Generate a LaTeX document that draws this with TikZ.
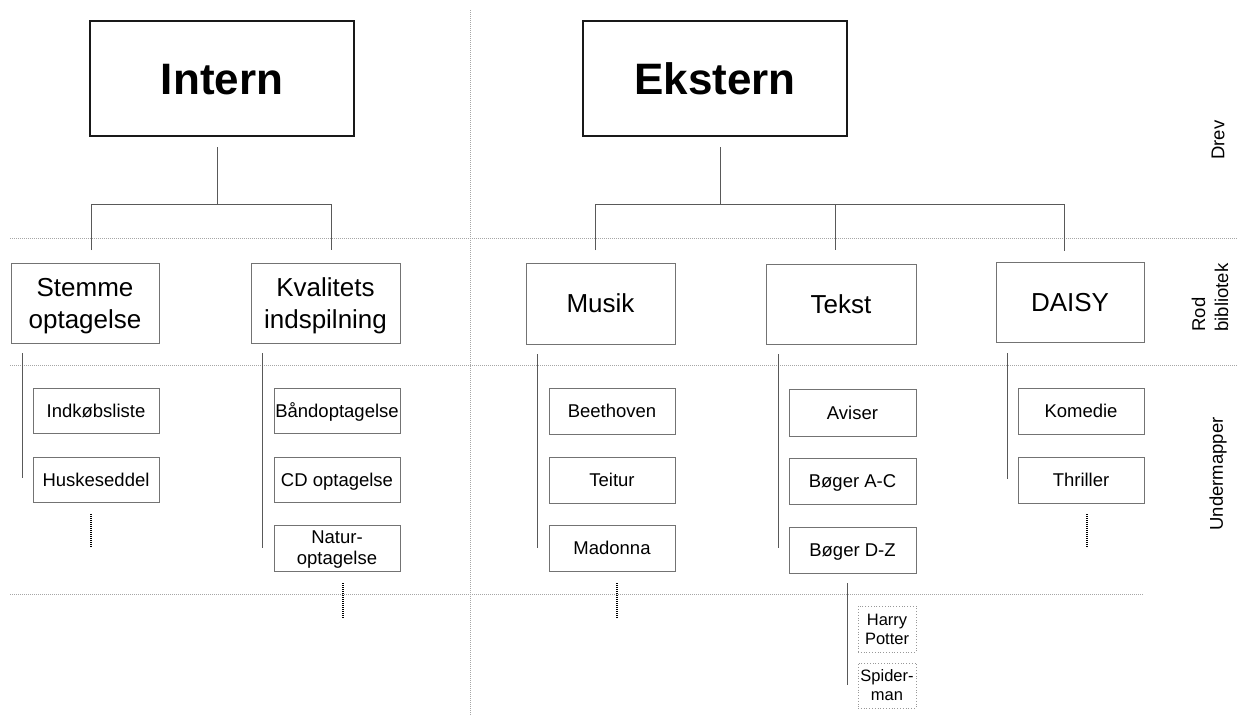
\documentclass[tikz,border=0pt]{standalone}
\usepackage{fontspec}
\setmainfont{Liberation Sans}
\begin{document}
\begin{tikzpicture}[x=1pt,y=-1pt,
  topbox/.style={draw=black!90, line width=1.4pt, minimum width=264pt, minimum height=115pt,
     font=\fontsize{44}{50}\selectfont\bfseries, inner sep=0pt, text height=31.5pt, text depth=0pt},
  midbase/.style={draw=black!55, line width=0.9pt, minimum width=148pt, minimum height=80pt,
     font=\fontsize{26}{32}\selectfont, align=center, inner sep=0pt, text depth=0pt},
  midbox/.style={midbase},
  midone/.style={midbase, text height=18.6pt},
  subbase/.style={draw=black!55, line width=0.9pt, minimum width=126pt, minimum height=46pt,
     font=\fontsize{18.5}{21}\selectfont, align=center, inner sep=0pt, text depth=0pt},
  subbox/.style={subbase, text height=13.3pt},
  subtwo/.style={subbase},
  tinybox/.style={draw=black!40, dotted, line width=0.8pt, minimum width=58pt, minimum height=46pt,
     font=\fontsize{16.5}{19}\selectfont, align=center, inner sep=0pt, text depth=0pt},
  conn/.style={draw=black!65, line width=0.9pt},
  sepline/.style={draw=black!35, line width=0.6pt, dash pattern=on 1pt off 1pt},
  more/.style={draw=black, line width=1.5pt, dash pattern=on 1pt off 1pt},
  bandlabel/.style={rotate=90, font=\fontsize{18.5}{23}\selectfont, align=left, inner sep=0pt}
]
\useasboundingbox (0,0) rectangle (1238,715);

% separators
\coordinate (h1a) at (10,238.5); \coordinate (h1b) at (1238,238.5);
\coordinate (h2a) at (10,365); \coordinate (h2b) at (1238,365);
\coordinate (h3a) at (10,594); \coordinate (h3b) at (1143,594);
\coordinate (v1a) at (470,10); \coordinate (v1b) at (470,715);
\draw[sepline] (h1a) -- (h1b);
\draw[sepline] (h2a) -- (h2b);
\draw[sepline] (h3a) -- (h3b);
\draw[sepline] (v1a) -- (v1b);

% top boxes
\node[topbox] (intern) at (222,78.5) {Intern};
\node[topbox] (ekstern) at (715,78.5) {Ekstern};

% level 2
\node[midbox] (stemme) at (85,303) {Stemme\\optagelse};
\node[midbox, minimum width=149pt] (kval) at (325.5,303) {Kvalitets\\indspilning};
\node[midone, minimum width=149pt, minimum height=81pt] (musik) at (600.5,303.5) {Musik};
\node[midone, minimum width=150pt] (tekst) at (841,304) {Tekst};
\node[midone] (daisy) at (1070,302) {DAISY};

% sub boxes
\node[subbox, minimum height=45pt] (ind) at (96,410.5) {Indkøbsliste};
\node[subbox, minimum height=45pt] (husk) at (96,479.5) {Huskeseddel};
\node[subbox, minimum height=45pt] (baand) at (337,410.5) {Båndoptagelse};
\node[subbox, minimum height=45pt] (cd) at (337,479.5) {CD optagelse};
\node[subtwo] (natur) at (337,548) {Natur-\\optagelse};
\node[subbox] (beet) at (612,411) {Beethoven};
\node[subbox] (teitur) at (612,480) {Teitur};
\node[subbox] (madonna) at (612,548) {Madonna};
\node[subbox, minimum width=127pt, minimum height=47pt] (aviser) at (852.5,412.5) {Aviser};
\node[subbox, minimum width=127pt] (bac) at (852.5,481) {Bøger A-C};
\node[subbox, minimum width=127pt] (bdz) at (852.5,550) {Bøger D-Z};
\node[subbox] (komedie) at (1081,411) {Komedie};
\node[subbox] (thriller) at (1081,480) {Thriller};
\node[tinybox] (harry) at (887,629) {Harry\\Potter};
\node[tinybox, minimum height=45pt] (spider) at (887,685.5) {Spider-\\man};

% band labels
\node[bandlabel] (drev) at (1218,140) {Drev};
\node[bandlabel] (rod) at (1210,297.5) {Rod\\bibliotek};
\node[bandlabel] (under) at (1218,474) {Undermapper};

% tree: Intern
\coordinate (is) at (217,147); \coordinate (ij) at (217,204);
\coordinate (il) at (91,204); \coordinate (ir) at (331,204);
\draw[conn] (is) -- (ij);
\draw[conn] (il) ++(0,46) -- (il) -- (ir) -- ++(0,46);
% tree: Ekstern
\coordinate (es) at (720,147); \coordinate (ej) at (720,204);
\coordinate (el) at (595,204); \coordinate (em) at (835,204); \coordinate (er) at (1064,204);
\draw[conn] (es) -- (ej);
\draw[conn] (el) ++(0,46) -- (el) -- (er) -- ++(0,47);
\draw[conn] (em) -- ++(0,46);

% sub-level vertical lines
\coordinate (s1) at (22,353);   \draw[conn] (s1) -- (22,478);
\coordinate (s2) at (262,353);  \draw[conn] (s2) -- (262,548);
\coordinate (s3) at (537,354);  \draw[conn] (s3) -- (537,548);
\coordinate (s4) at (778,354);  \draw[conn] (s4) -- (778,548);
\coordinate (s5) at (1007,353); \draw[conn] (s5) -- (1007,479);
\coordinate (s6) at (847,583);  \draw[conn] (s6) -- (847,685);

% continuation marks
\coordinate (m1) at (91,514);  \draw[more] (m1) -- (91,548);
\coordinate (m2) at (343,583); \draw[more] (m2) -- (343,618);
\coordinate (m3) at (617,583); \draw[more] (m3) -- (617,618);
\coordinate (m4) at (1087,514); \draw[more] (m4) -- (1087,548);
\end{tikzpicture}
\end{document}
